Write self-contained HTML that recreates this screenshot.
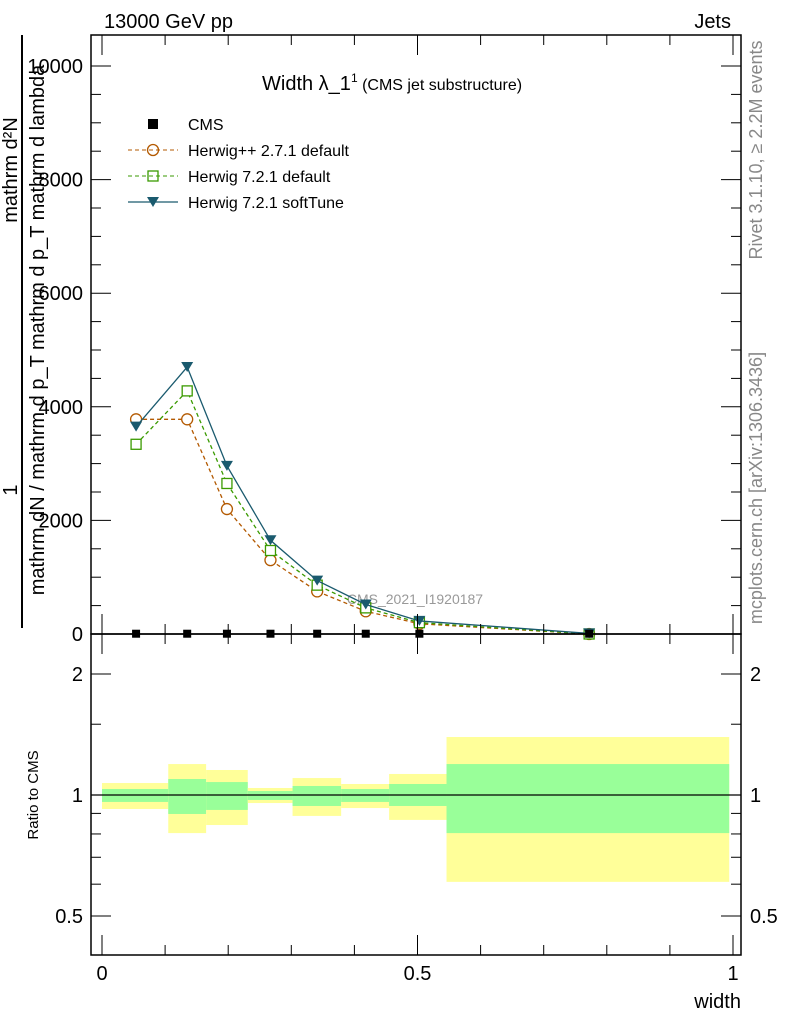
<!DOCTYPE html>
<html><head><meta charset="utf-8"><style>body{margin:0;background:#fff}svg{font-family:"Liberation Sans",sans-serif}</style></head>
<body>
<svg id="c" width="786" height="1024" viewBox="0 0 786 1024" xmlns="http://www.w3.org/2000/svg">
<text x="104" y="28" font-size="20">13000 GeV pp</text>
<text x="731" y="28" font-size="20" text-anchor="end">Jets</text>
<text x="262" y="90" font-size="20">Width λ_1<tspan font-size="12" dy="-8">1</tspan><tspan font-size="16" dy="8"> (CMS jet substructure)</tspan></text>
<g transform="translate(20,330) rotate(-90)">
<text x="160" y="-3" font-size="20" text-anchor="middle">mathrm d²N</text>
<text x="-160" y="-3" font-size="20" text-anchor="middle">1</text>
<line x1="-298" y1="2" x2="295" y2="2" stroke="#000" stroke-width="2"/>
<text x="0" y="24" font-size="20" text-anchor="middle">mathrm dN / mathrm d p_T mathrm d p_T mathrm d lambda</text>
</g>
<text transform="translate(762,150) rotate(-90)" font-size="18" fill="#888" text-anchor="middle">Rivet 3.1.10, ≥ 2.2M events</text>
<text transform="translate(762,488) rotate(-90)" font-size="18" fill="#888" text-anchor="middle">mcplots.cern.ch [arXiv:1306.3436]</text>
<text transform="translate(38,795) rotate(-90)" font-size="15" text-anchor="middle">Ratio to CMS</text>
<text x="741" y="1008" font-size="20" text-anchor="end">width</text>
<text x="415" y="604" font-size="14" fill="#999" text-anchor="middle">CMS_2021_I1920187</text>
<g id="ratio"></g><g id="main"></g><g id="axes"></g>
<g>
<rect x="148" y="119" width="10" height="10" fill="#000"/>
<text x="188" y="130" font-size="16">CMS</text>
<line x1="128" y1="150" x2="178" y2="150" stroke="#b35900" stroke-dasharray="4,3"/>
<circle cx="153" cy="150" r="5.5" fill="none" stroke="#b35900" stroke-width="1.3"/>
<text x="188" y="156" font-size="16">Herwig++ 2.7.1 default</text>
<line x1="128" y1="176" x2="178" y2="176" stroke="#3a9a00" stroke-dasharray="4,3"/>
<rect x="148" y="171" width="10" height="10" fill="none" stroke="#3a9a00" stroke-width="1.3"/>
<text x="188" y="182" font-size="16">Herwig 7.2.1 default</text>
<line x1="128" y1="202" x2="178" y2="202" stroke="#1a5a6e" stroke-width="1.3"/>
<path d="M147,197 L159,197 L153,207 Z" fill="#1a5a6e"/>
<text x="188" y="208" font-size="16">Herwig 7.2.1 softTune</text>
</g>
</svg>
<script>
const xCenters=[0.054,0.135,0.198,0.267,0.341,0.418,0.503,0.772];
const binEdges=[0,0.105,0.165,0.231,0.302,0.379,0.455,0.546,0.994];
const cmsVals=[5,5,5,5,5,5,5,5];
const herwigppVals=[3780,3780,2200,1300,750,400,180,0];
const herwig7Vals=[3340,4280,2650,1470,860,460,200,0];
const softTuneVals=[3650,4700,2960,1650,940,520,230,10];
const yellowHi=[1.071,1.194,1.154,1.041,1.102,1.065,1.128,1.394];
const yellowLo=[0.923,0.804,0.842,0.955,0.887,0.928,0.867,0.608];
const greenHi=[1.035,1.096,1.077,1.023,1.053,1.035,1.065,1.194];
const greenLo=[0.961,0.897,0.918,0.972,0.939,0.961,0.939,0.804];
const mainTicks=[0,2000,4000,6000,8000,10000];
const ratioTicks=[0.5,1,2];
const xTicks=[0,0.5,1];
const NS="http://www.w3.org/2000/svg";
const L=91,R=741,MT=35,MB=634,RB=955;
const X=v=>102+631*v;
const Y=v=>634-v*0.0568;
const YR=r=>795-121*Math.log2(r);
function mk(g,tag,a){const e=document.createElementNS(NS,tag);for(const k in a)e.setAttribute(k,a[k]);document.getElementById(g).appendChild(e);return e;}
for(let i=0;i<xCenters.length;i++){
 const x0=X(binEdges[i]),x1=X(binEdges[i+1]);
 let e=mk('ratio','rect',{x:x0,y:YR(yellowHi[i]),width:x1-x0,height:YR(yellowLo[i])-YR(yellowHi[i]),fill:'#ffff99'});
 
 
 e=mk('ratio','rect',{x:x0,y:YR(greenHi[i]),width:x1-x0,height:YR(greenLo[i])-YR(greenHi[i]),fill:'#99ff99'});
 
 
}
let rl=mk('ratio','line',{x1:L,x2:R,y1:YR(1),y2:YR(1),stroke:'#000','stroke-width':1.2});


function series(vals,color,dash,marker,name){
 const pts=vals.map((v,i)=>X(xCenters[i])+','+Y(v)).join(' ');
 const p=mk('main','polyline',{points:pts,fill:'none',stroke:color,'stroke-width':1.3,'stroke-dasharray':dash});
 
 
 vals.forEach((v,i)=>{
  const cx=X(xCenters[i]),cy=Y(v);let m;
  if(marker==='circle')m=mk('main','circle',{cx:cx,cy:cy,r:5.5,fill:'#fff',stroke:color,'stroke-width':1.3});
  else if(marker==='square')m=mk('main','rect',{x:cx-5,y:cy-5,width:10,height:10,fill:'#fff',stroke:color,'stroke-width':1.3});
  else m=mk('main','path',{d:`M${cx-6},${cy-5}L${cx+6},${cy-5}L${cx},${cy+5}Z`,fill:color});
  
  
 });
}
series(herwigppVals,'#b35900','4,3','circle','herwigpp');
series(herwig7Vals,'#3a9a00','4,3','square','herwig7');
series(softTuneVals,'#1a5a6e','none','tri','softtune');
cmsVals.forEach((v,i)=>{const m=mk('main','rect',{x:X(xCenters[i])-4,y:Y(v)-4,width:8,height:8,fill:'#000'});
 
 });
[[MT,MB],[MB,RB]].forEach(([t,b],k)=>{const f=mk('axes','rect',{x:L,y:t,width:R-L,height:b-t,fill:'none',stroke:'#000','stroke-width':1.5});
 
 });
function tick(x1,y1,x2,y2){mk('axes','line',{x1,y1,x2,y2,stroke:'#000','stroke-width':1});}
for(let v=0;v<=10400;v+=500){const y=Y(v);const big=v%2000===0;tick(L,y,L+(big?20:10),y);tick(R,y,R-(big?20:10),y);}
mainTicks.forEach(v=>{const t=mk('axes','text',{x:83,y:Y(v)+7,'font-size':20,'text-anchor':'end'});t.textContent=v;
 
 });
[0.5,0.6,0.7,0.8,0.9,1,1.5,2].forEach(r=>{const y=YR(r);const big=ratioTicks.includes(r);tick(L,y,L+(big?20:10),y);tick(R,y,R-(big?20:10),y);});
ratioTicks.forEach(r=>{[[83,'end'],[750,'start']].forEach(([x,a])=>{const t=mk('axes','text',{x:x,y:YR(r)+7,'font-size':20,'text-anchor':a});t.textContent=r;
 
 });});
for(let v=0;v<=1.001;v+=0.1){const x=X(v);const big=Math.abs(v*2-Math.round(v*2))<1e-6;
 tick(x,MB,x,MB-(big?20:10));tick(x,MT,x,MT+(big?20:10));tick(x,MB,x,MB+(big?20:10));tick(x,RB,x,RB-(big?20:10));}
xTicks.forEach(v=>{const t=mk('axes','text',{x:X(v),y:980,'font-size':20,'text-anchor':'middle'});t.textContent=v;
 
 });
</script>
</body></html>
